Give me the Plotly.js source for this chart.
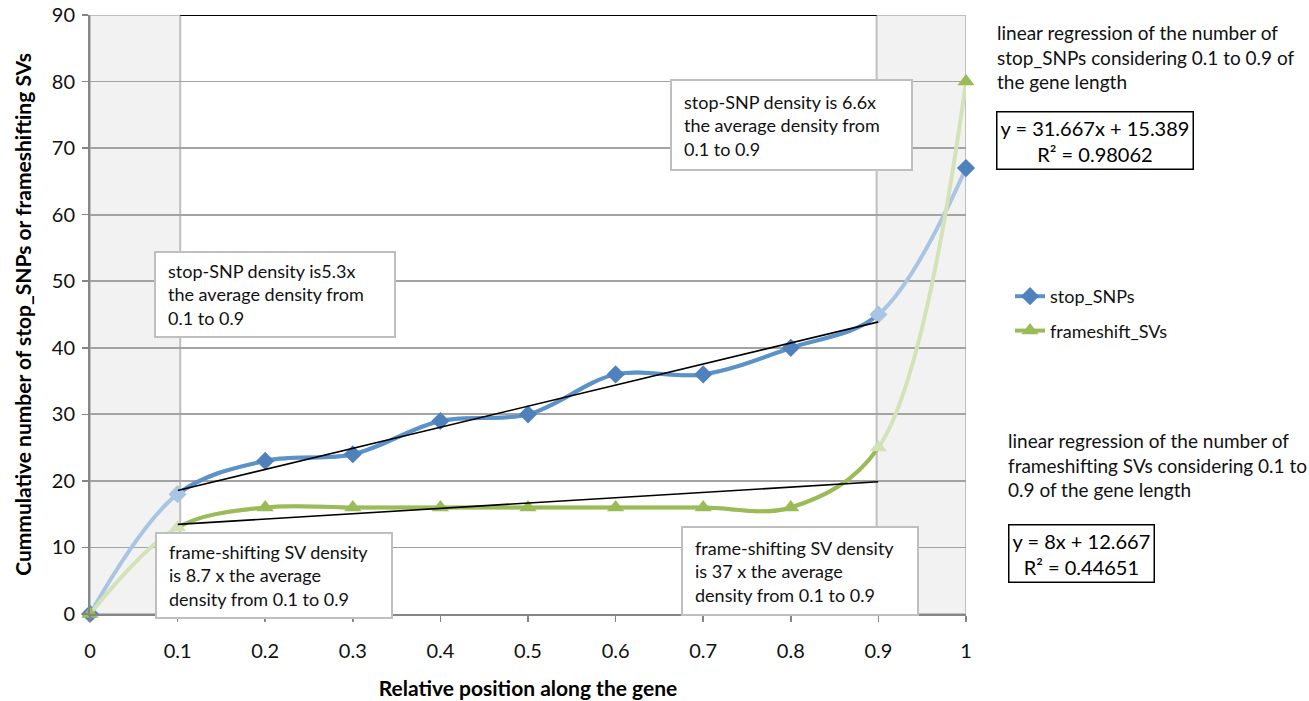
<!DOCTYPE html>
<html>
<head>
<meta charset="utf-8">
<script src="https://cdn.plot.ly/plotly-3.0.1.min.js"></script>
<style>html,body{margin:0;padding:0;background:#fff;}#chart{width:1309px;height:701px;}</style>
</head>
<body>
<div id="chart"></div>
<script>
// ---- data ----
const positions = [0, 0.1, 0.2, 0.3, 0.4, 0.5, 0.6, 0.7, 0.8, 0.9, 1];
const stopSNPs = [0, 18, 23, 24, 29, 30, 36, 36, 40, 45, 67];
const frameshiftSVs = [0, 13, 16, 16, 16, 16, 16, 16, 16, 25, 80];
const seriesNames = ['stop_SNPs', 'frameshift_SVs'];
const regSlopes = [31.667, 8];
const regIntercepts = [15.389, 12.667];
const regR2 = ['0.98062', '0.44651'];
const regRange = [0.1, 0.9];
const xTickVals = [0, 0.1, 0.2, 0.3, 0.4, 0.5, 0.6, 0.7, 0.8, 0.9, 1];
const xTickText = ['0', '0.1', '0.2', '0.3', '0.4', '0.5', '0.6', '0.7', '0.8', '0.9', '1'];
const yTickVals = [0, 10, 20, 30, 40, 50, 60, 70, 80, 90];

// ---- styles ----
const FONT = 'Lato, "Open Sans", sans-serif';
const TXT = '#111111';
const colors = ['#5B92C8', '#9BBB59'];
const markerColors = ['#4F81BD', '#9BBB59'];
const paleColors = ['#A9C5E3', '#D3E3B7'];
const symbols = ['diamond', 'triangle-up'];
const msize = [14, 15];
const NONE = 'rgba(0,0,0,0)';

const seriesData = [stopSNPs, frameshiftSVs];
const traces = [];

// pale full-length smoothed lines (visible only in edge regions), markers at the ends
seriesData.forEach((ys, i) => {
  const mc = positions.map((p, k) => (k === 0 || k === positions.length - 1) ? markerColors[i] : NONE);
  traces.push({
    x: positions, y: ys, xaxis: 'x', yaxis: 'y', type: 'scatter', mode: 'lines+markers',
    line: {color: paleColors[i], width: 4, shape: 'spline', smoothing: 1},
    marker: {symbol: symbols[i], size: msize[i], color: mc, line: {width: 0}},
    showlegend: false, hoverinfo: 'skip', cliponaxis: false
  });
});

// solid smoothed lines clipped to the 0.1-0.9 window
seriesData.forEach((ys, i) => {
  const mc = positions.map((p, k) => {
    if (k === 0 || k === positions.length - 1) return NONE;
    if (k === 1 || k === positions.length - 2) return paleColors[i];
    return markerColors[i];
  });
  traces.push({
    x: positions, y: ys, xaxis: 'x2', yaxis: 'y', type: 'scatter', mode: 'lines+markers',
    line: {color: colors[i], width: 4, shape: 'spline', smoothing: 1},
    marker: {symbol: symbols[i], size: msize[i], color: mc, line: {width: 0}},
    showlegend: false, hoverinfo: 'skip', cliponaxis: false
  });
});

// regression lines
regSlopes.forEach((m, i) => {
  traces.push({
    x: regRange, y: regRange.map(v => m * v + regIntercepts[i]), xaxis: 'x2', yaxis: 'y',
    type: 'scatter', mode: 'lines', line: {color: '#000000', width: 1.6},
    showlegend: false, hoverinfo: 'skip'
  });
});

// legend entries
seriesNames.forEach((n, i) => {
  traces.push({
    x: [null], y: [null], xaxis: 'x', yaxis: 'y', type: 'scatter', mode: 'lines+markers', name: n,
    legendgroup: n,
    line: {color: colors[i], width: 4},
    marker: {symbol: symbols[i], size: msize[i], color: markerColors[i]},
    showlegend: true
  });
});

const gridGrey = '#A3A3A3';
const axisGrey = '#868686';
const boxGrey = '#BFBFBF';

// helpers for paper coords from pixel positions
const L = 90, T = 15, W = 876, H = 599;
const px = v => (v - L) / W;
const py = v => (T + H - v) / H;

const shapes = [
  {type: 'rect', xref: 'x', yref: 'y', x0: 0, x1: 0.103, y0: 0, y1: 90, layer: 'below',
   fillcolor: '#F2F2F2', line: {color: boxGrey, width: 2}},
  {type: 'rect', xref: 'x', yref: 'y', x0: 0.898, x1: 1, y0: 0, y1: 90, layer: 'below',
   fillcolor: '#F2F2F2', line: {color: boxGrey, width: 2}},
  {type: 'line', xref: 'x', yref: 'y', x0: 0.103, x1: 0.898, y0: 90, y1: 90,
   line: {color: '#000000', width: 2}}
];

const annotations = [];

function textBox(text, left, top, w, h) {
  shapes.push({
    type: 'rect', xref: 'paper', yref: 'paper', layer: 'above',
    x0: px(left), x1: px(left + w), y0: py(top + h), y1: py(top),
    fillcolor: '#FFFFFF', line: {color: boxGrey, width: 2}
  });
  annotations.push({
    xref: 'paper', yref: 'paper', x: px(left + 11), y: py(top + h / 2), xanchor: 'left', yanchor: 'middle',
    text: text, showarrow: false, align: 'left',
    font: {family: FONT, size: 18, color: TXT}
  });
}

textBox('stop-SNP density is5.3x<br>the average density from<br>0.1 to 0.9', 155, 252, 240, 85);
textBox('stop-SNP density is 6.6x<br>the average density from<br>0.1 to 0.9', 671, 80, 241, 90);
textBox('frame-shifting SV density<br>is 8.7 x the average<br>density from 0.1 to 0.9', 156, 533, 236, 85);
textBox('frame-shifting SV density<br>is 37 x the average<br>density from 0.1 to 0.9', 682, 527, 236, 88);

annotations.push(
  {xref: 'paper', yref: 'paper', x: px(995), y: py(19), xanchor: 'left', yanchor: 'top',
   text: 'linear regression of the number of<br>stop_SNPs considering 0.1 to 0.9 of<br>the gene length',
   showarrow: false, align: 'left', font: {family: FONT, size: 19, color: TXT}},
  {xref: 'paper', yref: 'paper', x: px(1006), y: py(427), xanchor: 'left', yanchor: 'top',
   text: 'linear regression of the number of<br>frameshifting SVs considering 0.1 to<br>0.9 of the gene length',
   showarrow: false, align: 'left', font: {family: FONT, size: 19, color: TXT}},
  {xref: 'paper', yref: 'paper', x: px(996), y: py(111), xanchor: 'left', yanchor: 'top',
   text: 'y = ' + regSlopes[0] + 'x + ' + regIntercepts[0] + '<br>R² = ' + regR2[0],
   showarrow: false, align: 'center', bordercolor: '#000000', borderwidth: 1.5, borderpad: 3,
   bgcolor: '#FFFFFF', font: {family: FONT, size: 20, color: '#000000'}},
  {xref: 'paper', yref: 'paper', x: px(1008), y: py(524), xanchor: 'left', yanchor: 'top',
   text: 'y = ' + regSlopes[1] + 'x + ' + regIntercepts[1] + '<br>R² = ' + regR2[1],
   showarrow: false, align: 'center', bordercolor: '#000000', borderwidth: 1.5, borderpad: 3,
   bgcolor: '#FFFFFF', font: {family: FONT, size: 20, color: '#000000'}}
);

const layout = {
  width: 1309, height: 701,
  margin: {l: L, r: 1309 - L - W, t: T, b: 701 - T - H, pad: 0},
  paper_bgcolor: '#FFFFFF', plot_bgcolor: 'rgba(0,0,0,0)',
  font: {family: FONT, size: 18, color: TXT},
  xaxis: {
    domain: [0, 1], range: [0, 1], tickvals: xTickVals, ticktext: xTickText,
    showgrid: false, zeroline: false, showline: true, linecolor: axisGrey, linewidth: 2,
    ticks: 'outside', ticklen: 6, tickcolor: axisGrey, tickwidth: 1.5,
    ticklabelstandoff: 12,
    tickfont: {family: FONT, size: 20, color: TXT},
    title: {text: '<b>Relative position along the gene</b>', font: {family: FONT, size: 21, color: '#000'}, standoff: 20},
    automargin: false, fixedrange: true
  },
  xaxis2: {
    domain: [regRange[0], regRange[1]], range: [regRange[0], regRange[1]], anchor: 'y',
    visible: false, showgrid: false, zeroline: false, fixedrange: true
  },
  yaxis: {
    domain: [0, 1], range: [0, 90], tickvals: yTickVals,
    showgrid: true, gridcolor: gridGrey, gridwidth: 1.8, zeroline: false,
    showline: true, linecolor: axisGrey, linewidth: 2,
    ticks: 'outside', ticklen: 6, tickcolor: axisGrey, tickwidth: 1.5,
    ticklabelstandoff: 3,
    tickfont: {family: FONT, size: 20, color: TXT},
    title: {text: '<b>Cummulative number of stop_SNPs or frameshifting SVs</b>', font: {family: FONT, size: 21, color: '#000'}, standoff: 14},
    automargin: false, fixedrange: true
  },
  legend: {
    x: px(1010), y: py(278), xanchor: 'left', yanchor: 'top',
    font: {family: FONT, size: 18, color: TXT},
    bgcolor: 'rgba(0,0,0,0)', traceorder: 'grouped', tracegroupgap: 8, itemwidth: 30
  },
  shapes: shapes,
  annotations: annotations,
  showlegend: true
};

Plotly.newPlot('chart', traces, layout, {displayModeBar: false, staticPlot: true});
</script>
</body>
</html>
